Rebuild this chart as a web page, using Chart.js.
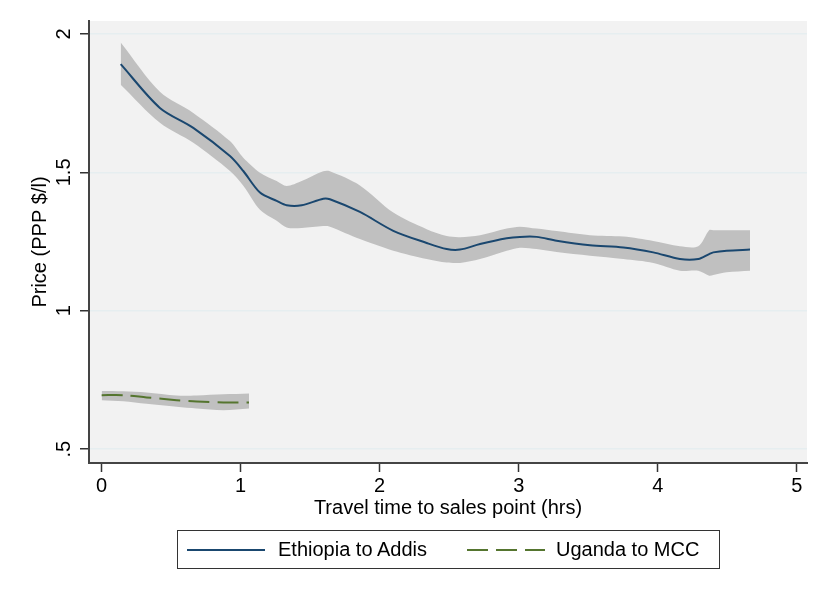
<!DOCTYPE html>
<html>
<head>
<meta charset="utf-8">
<script src="https://cdn.jsdelivr.net/npm/chart.js@4.4.1/dist/chart.umd.min.js"></script>
<style>
  html, body { margin: 0; padding: 0; background: #fff; }
  #wrap { position: relative; width: 823px; height: 599px; }
  #legend {
    position: absolute; left: 177px; top: 530px; width: 541px; height: 37px;
    border: 1px solid #333; font-family: Arial, "Liberation Sans", sans-serif;
    font-size: 20px; color: #000;
  }
  #legend .key { position: absolute; top: 18px; height: 2px; width: 78px; }
  #legend .lbl { position: absolute; top: 6px; line-height: 24px; white-space: nowrap; }
</style>
</head>
<body>
<div id="wrap">
  <canvas id="chart" width="823" height="599"></canvas>
  <div id="legend"></div>
</div>
<script>
// Travel time (hrs) and smoothed price (PPP $/l) with confidence band
const ethX  = [0.137, 0.419, 0.659, 0.923, 1.019, 1.139, 1.259, 1.331, 1.439, 1.594, 1.642, 1.858, 2.098, 2.338, 2.482, 2.578, 2.722, 2.914, 3.009, 3.129, 3.273, 3.513, 3.753, 3.968, 4.160, 4.292, 4.370, 4.400, 4.496, 4.664];
const ethY  = [1.891, 1.733, 1.661, 1.559, 1.505, 1.427, 1.397, 1.381, 1.381, 1.405, 1.403, 1.357, 1.289, 1.245, 1.223, 1.221, 1.241, 1.262, 1.267, 1.267, 1.253, 1.237, 1.229, 1.211, 1.187, 1.187, 1.205, 1.211, 1.217, 1.221];
const ethHi = [1.969, 1.791, 1.715, 1.613, 1.553, 1.499, 1.469, 1.451, 1.469, 1.504, 1.504, 1.453, 1.355, 1.295, 1.270, 1.266, 1.273, 1.297, 1.304, 1.297, 1.288, 1.273, 1.268, 1.252, 1.233, 1.233, 1.291, 1.291, 1.291, 1.291];
const ethLo = [1.817, 1.679, 1.607, 1.505, 1.452, 1.365, 1.325, 1.301, 1.299, 1.306, 1.304, 1.259, 1.217, 1.187, 1.174, 1.173, 1.187, 1.217, 1.228, 1.223, 1.212, 1.199, 1.187, 1.173, 1.145, 1.145, 1.127, 1.129, 1.139, 1.145];

const ugaX  = [0, 0.155, 0.323, 0.539, 0.683, 0.875, 1.06];
const ugaY  = [0.695, 0.695, 0.687, 0.677, 0.672, 0.669, 0.669];
const ugaHi = [0.710, 0.709, 0.705, 0.694, 0.694, 0.698, 0.701];
const ugaLo = [0.677, 0.673, 0.664, 0.653, 0.647, 0.641, 0.647];

const xTicks = [0, 1, 2, 3, 4, 5];
const yTicks = [0.5, 1, 1.5, 2];
const yTickLabels = ['.5', '1', '1.5', '2'];

const seriesNames = ['Ethiopia to Addis', 'Uganda to MCC'];
const seriesColors = ['#1a476f', '#55752f'];

const FONT = 'Arial, "Liberation Sans", sans-serif';

function pts(xs, ys) {
    return xs.map((x, i) => ({ x: x, y: ys[i] }));
}

const bandColor = 'rgb(192,192,192)';

// fundo cinza da área do gráfico
const plotBg = {
    id: 'plotBg',
    beforeDraw(chart) {
        const a = chart.chartArea;
        const ctx = chart.ctx;
        ctx.save();
        ctx.fillStyle = '#f2f2f2';
        ctx.fillRect(a.left, a.top, a.right - a.left, a.bottom - a.top);
        ctx.restore();
    }
};

// rótulos do eixo y girados, estilo Stata
const yLabels = {
    id: 'yLabels',
    afterDraw(chart) {
        const s = chart.scales.y;
        const ctx = chart.ctx;
        ctx.save();
        ctx.font = '20px ' + FONT;
        ctx.fillStyle = '#000';
        ctx.textAlign = 'center';
        ctx.textBaseline = 'middle';
        yTicks.forEach((v, i) => {
            ctx.save();
            ctx.translate(64, s.getPixelForValue(v));
            ctx.rotate(-Math.PI / 2);
            ctx.fillText(yTickLabels[i], 0, 0);
            ctx.restore();
        });
        ctx.restore();
    }
};

const chart = new Chart(document.getElementById('chart'), {
    type: 'line',
    data: {
        datasets: [
            {
                label: seriesNames[0],
                data: pts(ethX, ethY),
                borderColor: seriesColors[0],
                borderWidth: 2,
                pointRadius: 0,
                tension: 0.3,
                fill: false
            },
            {
                label: seriesNames[1],
                data: pts(ugaX, ugaY),
                borderColor: seriesColors[1],
                borderWidth: 2,
                borderDash: [21, 8],
                pointRadius: 0,
                tension: 0.3,
                fill: false
            },
            {
                label: 'eth hi',
                data: pts(ethX, ethHi),
                borderColor: 'transparent',
                borderWidth: 0,
                backgroundColor: bandColor,
                pointRadius: 0,
                tension: 0.3,
                fill: '+1'
            },
            {
                label: 'eth lo',
                data: pts(ethX, ethLo),
                borderColor: 'transparent',
                borderWidth: 0,
                pointRadius: 0,
                tension: 0.3,
                fill: false
            },
            {
                label: 'uga hi',
                data: pts(ugaX, ugaHi),
                borderColor: 'transparent',
                borderWidth: 0,
                backgroundColor: bandColor,
                pointRadius: 0,
                tension: 0.3,
                fill: '+1'
            },
            {
                label: 'uga lo',
                data: pts(ugaX, ugaLo),
                borderColor: 'transparent',
                borderWidth: 0,
                pointRadius: 0,
                tension: 0.3,
                fill: false
            }
        ]
    },
    options: {
        responsive: false,
        animation: false,
        events: [],
        layout: {
            padding: { top: 21, right: 16, left: 0, bottom: 76 }
        },
        plugins: {
            legend: { display: false },
            tooltip: { enabled: false }
        },
        scales: {
            x: {
                type: 'linear',
                min: -0.091,
                max: 5.074,
                afterBuildTicks: (s) => { s.ticks = xTicks.map(v => ({ value: v })); },
                afterFit: (s) => { s.height = 60; },
                grid: {
                    drawOnChartArea: false,
                    drawTicks: true,
                    tickLength: 9,
                    tickColor: '#333',
                    tickWidth: 1.5
                },
                border: { color: '#444', width: 2 },
                ticks: {
                    color: '#000',
                    font: { family: FONT, size: 20 },
                    padding: 2,
                    maxRotation: 0,
                    callback: (v) => String(v)
                },
                title: {
                    display: true,
                    text: 'Travel time to sales point (hrs)',
                    color: '#000',
                    font: { family: FONT, size: 20 },
                    padding: { top: 0, bottom: 3 }
                }
            },
            y: {
                type: 'linear',
                min: 0.45,
                max: 2.047,
                afterBuildTicks: (s) => { s.ticks = yTicks.map(v => ({ value: v })); },
                afterFit: (s) => { s.width = 89; },
                grid: {
                    color: '#e6eef0',
                    lineWidth: 1.5,
                    drawTicks: true,
                    tickLength: 9,
                    tickColor: '#333',
                    tickWidth: 1.5
                },
                border: { color: '#444', width: 2 },
                ticks: { display: false },
                title: {
                    display: true,
                    text: 'Price (PPP $/l)',
                    color: '#000',
                    font: { family: FONT, size: 20 },
                    padding: { top: 28, bottom: 0 }
                }
            }
        }
    },
    plugins: [plotBg, yLabels]
});

// legenda em HTML, com a caixa igual ao original
const legendEl = document.getElementById('legend');
const keyLeft = [9, 289];
const lblLeft = [100, 378];
chart.data.datasets.slice(0, 2).forEach((ds, i) => {
    const key = document.createElement('div');
    key.className = 'key';
    key.style.left = keyLeft[i] + 'px';
    if (ds.borderDash) {
        key.style.background = 'repeating-linear-gradient(to right, ' + ds.borderColor + ' 0 21px, transparent 21px 29px)';
    } else {
        key.style.background = ds.borderColor;
    }
    const lbl = document.createElement('div');
    lbl.className = 'lbl';
    lbl.style.left = lblLeft[i] + 'px';
    lbl.textContent = ds.label;
    legendEl.appendChild(key);
    legendEl.appendChild(lbl);
});
</script>
</body>
</html>
